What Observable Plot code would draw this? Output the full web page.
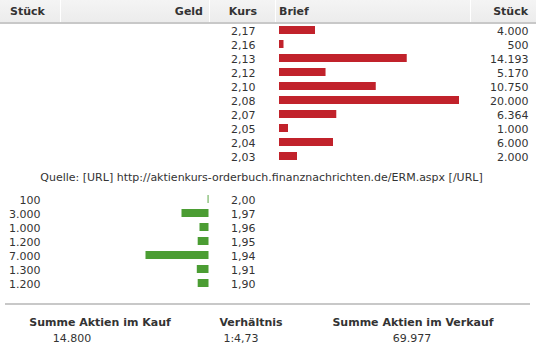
<!DOCTYPE html>
<html>
<head>
<meta charset="utf-8">
<script src="https://cdn.jsdelivr.net/npm/d3@7"></script>
<script src="https://cdn.jsdelivr.net/npm/@observablehq/plot@0.6"></script>
<style>
  html, body { margin: 0; padding: 0; background: #fff; }
  #wrap { position: relative; width: 536px; height: 358px; overflow: hidden;
          font-family: "DejaVu Sans", Verdana, sans-serif; font-size: 11px; color: #333; }
  .abs { position: absolute; white-space: nowrap; line-height: 13px; }
  .b { font-weight: bold; }
  #head { position: absolute; left: 0; top: 0; width: 536px; height: 22px;
          background: linear-gradient(#f4f4f4, #ececec); border-bottom: 2px solid #c8c8c8; }
  .sep { position: absolute; top: 0; width: 1px; height: 22px; background: #fff; }
  .plot { position: absolute; left: 0; }
</style>
</head>
<body>
<div id="wrap">
  <div id="head">
    <div class="sep" style="left:60px"></div>
    <div class="sep" style="left:209px"></div>
    <div class="sep" style="left:275px"></div>
    <div class="sep" style="left:470px"></div>
  </div>
  <div class="abs b" style="left:10px;top:5px">Stück</div>
  <div class="abs b" style="right:333px;top:5px">Geld</div>
  <div class="abs b" style="right:279px;top:5px">Kurs</div>
  <div class="abs b" style="left:279px;top:5px">Brief</div>
  <div class="abs b" style="right:8px;top:5px">Stück</div>
  <div id="asks" class="plot" style="top:22px"></div>
  <div id="caption" class="abs" style="left:0;width:523px;text-align:center;top:171px">Quelle: [URL] http://aktienkurs-orderbuch.finanznachrichten.de/ERM.aspx [/URL]</div>
  <div id="bids" class="plot" style="top:190px"></div>
  <div style="position:absolute;left:5px;top:303px;width:525px;height:2px;background:#c8c8c8"></div>
  <div class="abs b" style="left:100px;top:316px;transform:translateX(-50%)">Summe Aktien im Kauf</div>
  <div class="abs b" style="left:251px;top:316px;transform:translateX(-50%)">Verhältnis</div>
  <div class="abs b" style="left:413px;top:316px;transform:translateX(-50%)">Summe Aktien im Verkauf</div>
  <div id="sumKauf" class="abs" style="left:72px;top:332px;transform:translateX(-50%)"></div>
  <div id="ratio" class="abs" style="left:241px;top:332px;transform:translateX(-50%)"></div>
  <div id="sumVerkauf" class="abs" style="left:412px;top:332px;transform:translateX(-50%)"></div>
</div>
<script>
// Data (Orderbuch)
const askKurs   = [2.17, 2.16, 2.13, 2.12, 2.10, 2.08, 2.07, 2.05, 2.04, 2.03];
const askStueck = [4000, 500, 14193, 5170, 10750, 20000, 6364, 1000, 6000, 2000];
const bidKurs   = [2.00, 1.97, 1.96, 1.95, 1.94, 1.91, 1.90];
const bidStueck = [100, 3000, 1000, 1200, 7000, 1300, 1200];

const de = d3.formatLocale({decimal: ",", thousands: ".", grouping: [3], currency: ["", " €"]});
const fmtInt = de.format(",");
const fmtKurs = v => de.format(".2f")(v);

const asks = askKurs.map((k, i) => ({kurs: k, stueck: askStueck[i]}));
const bids = bidKurs.map((k, i) => ({kurs: k, stueck: bidStueck[i]}));

const RED = "#c1222b", GREEN = "#4b9d33";
const common = {
  width: 536,
  marginTop: 0, marginBottom: 0, marginLeft: 0, marginRight: 0,
  style: {background: "transparent", fontFamily: "DejaVu Sans, Verdana, sans-serif", fontSize: "11px", color: "#333"}
};

const asksPlot = Plot.plot({
  ...common,
  height: 143,
  x: {domain: [0, 20000], range: [279, 459], axis: null},
  y: {type: "band", domain: askKurs, range: [1, 141], paddingInner: 0.46, paddingOuter: 0.23, axis: null},
  marks: [
    Plot.barX(asks, {x: "stueck", y: "kurs", fill: RED}),
    Plot.text(asks, {y: "kurs", text: d => fmtKurs(d.kurs), frameAnchor: "left", dx: 255, textAnchor: "end", fontSize: 11, dy: 1}),
    Plot.text(asks, {y: "kurs", text: d => fmtInt(d.stueck), frameAnchor: "right", dx: -8, textAnchor: "end", fontSize: 11, dy: 1})
  ]
});
document.getElementById("asks").append(asksPlot);

const bidsPlot = Plot.plot({
  ...common,
  height: 102,
  x: {domain: [0, 20000], range: [208.5, 28.5], axis: null},
  y: {type: "band", domain: bidKurs, range: [2, 100], paddingInner: 0.46, paddingOuter: 0.23, axis: null},
  marks: [
    Plot.barX(bids, {x: "stueck", y: "kurs", fill: GREEN}),
    Plot.text(bids, {y: "kurs", text: d => fmtInt(d.stueck), frameAnchor: "left", dx: 40, textAnchor: "end", fontSize: 11, dy: 1}),
    Plot.text(bids, {y: "kurs", text: d => fmtKurs(d.kurs), frameAnchor: "left", dx: 255, textAnchor: "end", fontSize: 11, dy: 1})
  ]
});
document.getElementById("bids").append(bidsPlot);

const sumKauf = d3.sum(bidStueck), sumVerkauf = d3.sum(askStueck);
document.getElementById("sumKauf").textContent = fmtInt(sumKauf);
document.getElementById("sumVerkauf").textContent = fmtInt(sumVerkauf);
document.getElementById("ratio").textContent = "1:" + de.format(".2f")(sumVerkauf / sumKauf);
</script>
</body>
</html>
